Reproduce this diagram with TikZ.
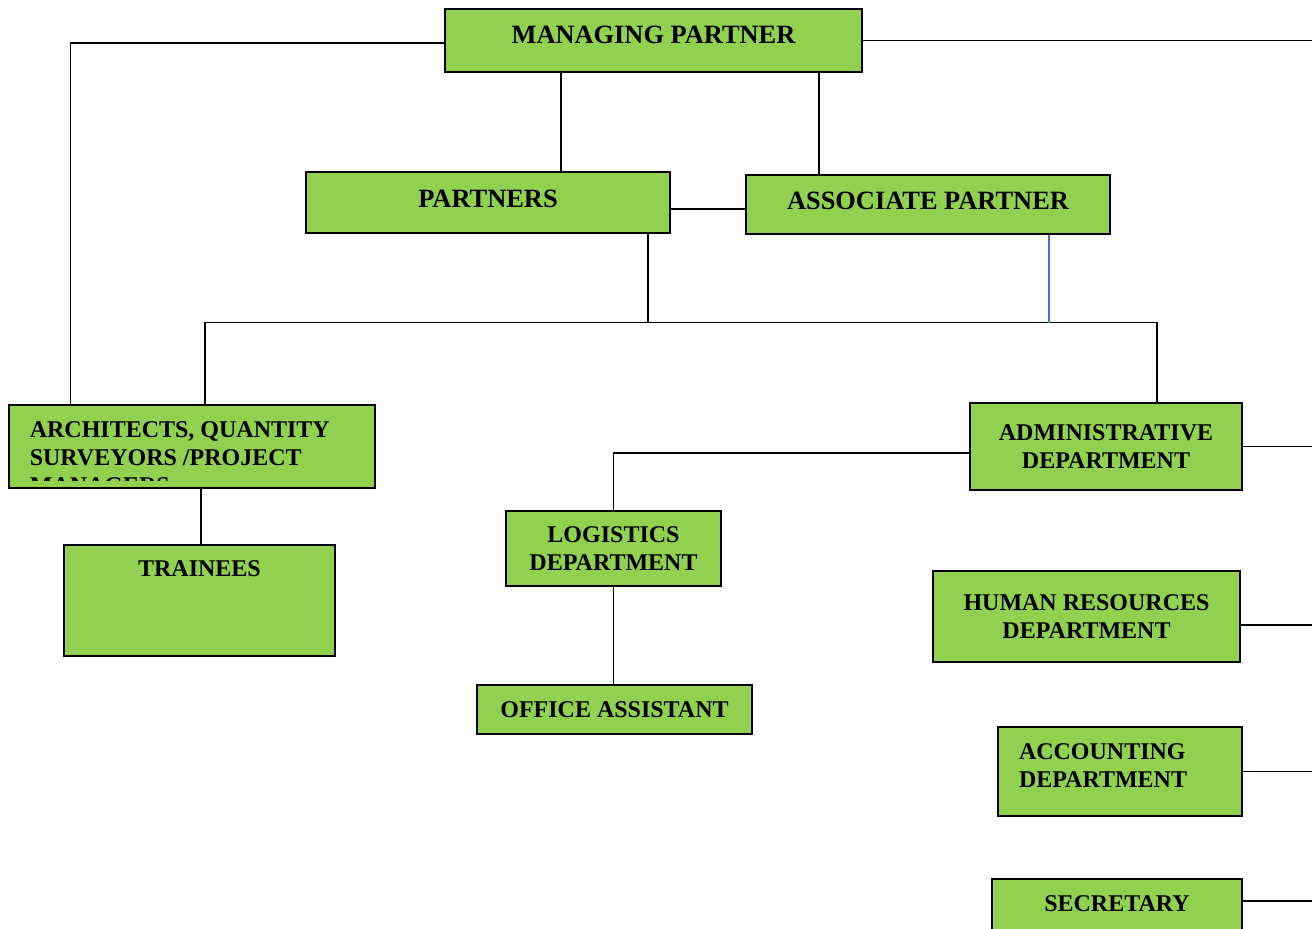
\documentclass[tikz,border=0pt]{standalone}
\usepackage{fontspec}
\setmainfont{Liberation Serif}
\definecolor{boxgreen}{RGB}{146,208,80}
\definecolor{linkblue}{RGB}{68,114,196}

\begin{document}
\begin{tikzpicture}[
  x=0.5pt, y=-0.5pt,
  box/.style={draw, fill=boxgreen, line width=0.6pt, inner sep=0pt, align=center,
    font=\bfseries\fontsize{12}{14}\selectfont},
  bigbox/.style={box, font=\bfseries\fontsize{13.2}{15}\selectfont},
  link/.style={draw, line width=0.6pt}
]
\clip (0,0) rectangle (1312,929);

\node[bigbox, minimum width=208.5pt, minimum height=31.5pt, text height=8.7pt, text depth=5.5pt] (mp) at (653.5,40.5) {MANAGING PARTNER};
\node[bigbox, minimum width=182pt, minimum height=30.5pt, text height=8.7pt, text depth=3.5pt] (part) at (488,202.5) {PARTNERS};
\node[bigbox, minimum width=182pt, minimum height=29.5pt, text height=8.7pt, text depth=3.5pt] (assoc) at (928,204.5) {ASSOCIATE PARTNER};

\node[box, minimum width=183pt, minimum height=41.5pt] (arch) at (192,446.5) {};
\begin{scope}
  \clip ([yshift=4pt]arch.south west) rectangle (arch.north east);
  \node[anchor=north west, inner sep=0pt, align=left, font=\bfseries\fontsize{12}{14}\selectfont] (archtext)
    at ([xshift=10.5pt,yshift=-8.5pt]arch.north west) {ARCHITECTS, QUANTITY\\SURVEYORS /PROJECT\\MANAGERS};
\end{scope}
\node[box, minimum width=135.5pt, minimum height=55.5pt, text height=8pt, text depth=31.5pt] (train) at (199.5,600.5) {TRAINEES};

\node[box, minimum width=136pt, minimum height=43.5pt] (admin) at (1106,446.5) {ADMINISTRATIVE\\DEPARTMENT};
\node[box, minimum width=107.5pt, minimum height=37.5pt] (logi) at (613.5,548.5) {LOGISTICS\\DEPARTMENT};
\node[box, minimum width=137.5pt, minimum height=24.5pt] (office) at (614.5,709.5) {OFFICE ASSISTANT};
\node[box, minimum width=153.5pt, minimum height=45.5pt] (hr) at (1086.5,616.5) {HUMAN RESOURCES\\DEPARTMENT};
\node[box, minimum height=44.5pt, text width=101pt, inner xsep=10.5pt, align=left, text depth=20pt] (acc) at (1120,771.5) {ACCOUNTING\\DEPARTMENT};
\node[box, minimum width=125pt, minimum height=28pt, text height=8pt, text depth=4pt] (sec) at (1117,907) {SECRETARY};

\coordinate (edge) at (1312,0);
\coordinate (mpl) at ([xshift=-46.25pt]mp.south);
\coordinate (mpr) at ([xshift=82.75pt]mp.south);
\coordinate (archl) at ([xshift=31pt]arch.north west);
\coordinate (pdrop) at ([xshift=80pt]part.south);
\coordinate (bus) at ([yshift=-44.5pt]pdrop);
\coordinate (archm) at ([xshift=6.5pt]arch.north);
\coordinate (adminm) at ([xshift=25.5pt]admin.north);
\coordinate (asd) at ([xshift=60.5pt]assoc.south);
\coordinate (archb) at ([xshift=4.5pt]arch.south);
\coordinate (hre) at ([yshift=-4.25pt]hr.east);
\coordinate (sece) at ([yshift=3pt]sec.east);

\draw[link] (mpl) -- (mpl |- part.north);
\draw[link] (mpr) -- (mpr |- assoc.north);
\draw[link] ([yshift=-1.25pt]mp.west) -| (archl);
\draw[link] (mp.east) -- (mp.east -| edge);
\draw[link] ([yshift=-3.25pt]part.east) -- ([yshift=-3.25pt]part.east -| assoc.west);
\draw[link] (pdrop) -- (bus);
\draw[link] (archm) |- (bus) -| (adminm);
\draw[link, draw=linkblue] (asd) -- (asd |- bus);
\draw[link] (archb) -- (archb |- train.north);
\draw[link] ([yshift=-3.25pt]admin.west) -| (logi.north);
\draw[link] (logi.south) -- (logi.south |- office.north);
\draw[link] (admin.east) -- (admin.east -| edge);
\draw[link] (hre) -- (hre -| edge);
\draw[link] (acc.east) -- (acc.east -| edge);
\draw[link] (sece) -- (sece -| edge);
\end{tikzpicture}
\end{document}
